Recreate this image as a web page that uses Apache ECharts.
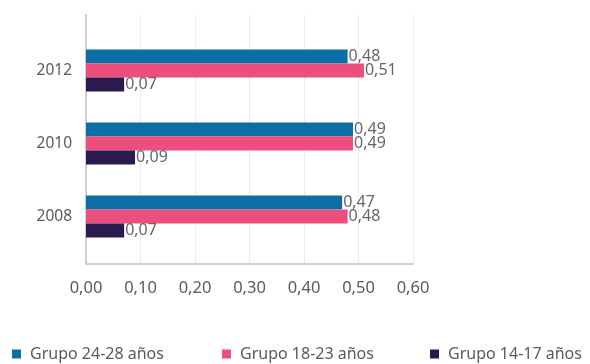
<!DOCTYPE html>
<html><head><meta charset="utf-8">
<script src="https://cdn.jsdelivr.net/npm/echarts@6/dist/echarts.min.js"></script>
<style>html,body{margin:0;padding:0;background:#fff}#c{width:590px;height:364px}</style>
</head><body><div id="c"></div>
<script>
const years = ['2008', '2010', '2012'];
const g2428 = [0.47, 0.49, 0.48];
const g1823 = [0.48, 0.49, 0.51];
const g1417 = [0.07, 0.09, 0.07];
const xTicks = [0, 0.6, 0.1];
const names = ['Grupo 24-28 años', 'Grupo 18-23 años', 'Grupo 14-17 años'];
const colors = ['#0b6ea7', '#ec4f7e', '#2a1a4e'];
const FONT = 'Noto Sans';
const fmt = v => v.toFixed(2).replace('.', ',');

const chart = echarts.init(document.getElementById('c'), null, {renderer: 'canvas'});
function barSeries(name, data, color) {
  return {
    name, type: 'bar', data, xAxisIndex: 0, yAxisIndex: 0,
    barWidth: 14, barGap: '0%',
    itemStyle: {color},
    label: {show: true, position: 'right', distance: 1, color: '#666', fontSize: 16, fontFamily: FONT,
      formatter: p => fmt(p.value)}
  };
}
const legendBase = {top: 341, itemWidth: 9, itemHeight: 9, itemGap: 10, icon: 'rect',
  textStyle: {fontSize: 16, color: '#5a5a5a', fontFamily: FONT, padding: [0,0,0,4]}};
chart.setOption({
  animation: false,
  textStyle: {fontFamily: FONT},
  grid: [
    {left: 86, right: 177, top: 34, height: 219},
    {left: 86, right: 177, top: 15, height: 249}
  ],
  legend: [
    Object.assign({}, legendBase, {left: 7, data: [names[0]]}),
    Object.assign({}, legendBase, {left: 217, data: [names[1]]}),
    Object.assign({}, legendBase, {left: 425, data: [names[2]]})
  ],
  xAxis: [
    {gridIndex: 0, type: 'value', min: xTicks[0], max: xTicks[1], interval: xTicks[2], show: false},
    {gridIndex: 1, type: 'value', min: xTicks[0], max: xTicks[1], interval: xTicks[2],
      axisLine: {show: true, lineStyle: {color: '#d0d0d0', width: 2}},
      axisTick: {show: false},
      splitLine: {show: true, lineStyle: {color: '#ececec', width: 1}},
      axisLabel: {margin: 16, fontSize: 16.5, color: '#5a5a5a', fontFamily: FONT, formatter: v => fmt(v)}}
  ],
  yAxis: [
    {gridIndex: 0, type: 'category', data: years, axisLine: {show: false}, axisTick: {show: false},
      axisLabel: {margin: 14, fontSize: 15.5, color: '#5a5a5a', fontFamily: FONT}},
    {gridIndex: 1, type: 'category', data: years, axisLine: {show: true, lineStyle: {color: '#d0d0d0', width: 2}},
      axisTick: {show: false}, axisLabel: {show: false}, splitLine: {show: false}}
  ],
  series: [
    barSeries(names[0], g2428, colors[0]),
    barSeries(names[1], g1823, colors[1]),
    barSeries(names[2], g1417, colors[2])
  ]
});
</script></body></html>
